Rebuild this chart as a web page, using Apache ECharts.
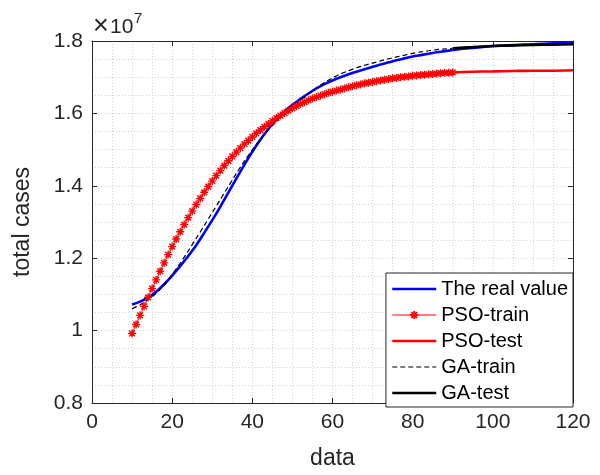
<!DOCTYPE html>
<html>
<head>
<meta charset="utf-8">
<script src="https://cdn.jsdelivr.net/npm/echarts@6/dist/echarts.min.js"></script>
<style>
  html, body { margin: 0; padding: 0; background: #fff; }
  #chart { width: 600px; height: 475px; }
</style>
</head>
<body>
<div id="chart"></div>
<script>
// values are in units of 1e7 (axis shows "x10^7")
var seriesNames = ['The real value', 'PSO-train', 'PSO-test', 'GA-train', 'GA-test'];

// real value, from day 10 to 120, every 2 days
var realStart = 10, realStep = 2;
var realValue = [1.072, 1.080, 1.091, 1.107, 1.128, 1.152, 1.178, 1.206, 1.236, 1.270,
    1.305, 1.342, 1.381, 1.420, 1.458, 1.494, 1.527, 1.557, 1.583, 1.605,
    1.624, 1.640, 1.655, 1.669, 1.681, 1.691, 1.700, 1.708, 1.715, 1.722,
    1.729, 1.735, 1.741, 1.747, 1.752, 1.757, 1.761, 1.765, 1.769, 1.772,
    1.775, 1.778, 1.780, 1.782, 1.784, 1.786, 1.787, 1.788, 1.789, 1.790,
    1.791, 1.792, 1.793, 1.794, 1.795, 1.796];

// PSO train, every day from 10 to 90
var psoTrainStart = 10;
var psoTrain = [0.992, 1.017, 1.042, 1.067, 1.092, 1.116, 1.140, 1.164, 1.187, 1.210,
    1.232, 1.253, 1.273, 1.293, 1.312, 1.330, 1.348, 1.365, 1.382, 1.398,
    1.413, 1.428, 1.442, 1.456, 1.469, 1.481, 1.493, 1.504, 1.515, 1.525,
    1.535, 1.545, 1.554, 1.563, 1.571, 1.579, 1.587, 1.594, 1.601, 1.608,
    1.614, 1.620, 1.626, 1.631, 1.636, 1.641, 1.645, 1.649, 1.653, 1.657,
    1.660, 1.663, 1.666, 1.669, 1.672, 1.675, 1.678, 1.680, 1.683, 1.685,
    1.687, 1.689, 1.691, 1.693, 1.695, 1.697, 1.698, 1.700, 1.701, 1.702,
    1.704, 1.705, 1.706, 1.707, 1.708, 1.709, 1.710, 1.711, 1.712, 1.712,
    1.713];

var testDays = [90, 95, 100, 105, 110, 115, 120];
var psoTest = [1.713, 1.715, 1.716, 1.717, 1.718, 1.718, 1.719];

// GA train, every 2 days from 10 to 90
var gaTrainStart = 10, gaTrainStep = 2;
var gaTrain = [1.060, 1.071, 1.085, 1.103, 1.126, 1.155, 1.186, 1.220, 1.255, 1.290,
    1.326, 1.362, 1.398, 1.434, 1.468, 1.499, 1.529, 1.555, 1.578, 1.598,
    1.617, 1.636, 1.654, 1.670, 1.685, 1.698, 1.709, 1.718, 1.726, 1.733,
    1.739, 1.745, 1.751, 1.756, 1.761, 1.766, 1.770, 1.773, 1.776, 1.778,
    1.780];
var gaTest = [1.780, 1.783, 1.786, 1.788, 1.789, 1.790, 1.791];

var xTicks = { min: 0, max: 120, interval: 20 };
var yTicks = { min: 0.8, max: 1.8, interval: 0.2 };

function pairs(start, step, vals) {
    return vals.map(function (v, i) { return [start + i * step, v]; });
}
function zipXY(xs, vals) {
    return vals.map(function (v, i) { return [xs[i], v]; });
}

var font = "'Liberation Sans', Arial, sans-serif";
var axisColor = '#262626';
var gridLine = { show: true, lineStyle: { color: '#d2d2d2', type: [1, 2], width: 1 } };
var asterisk = 'path://M0,-1L0,1M-1,0L1,0M-0.72,-0.72L0.72,0.72M-0.72,0.72L0.72,-0.72';

function xAxisDef(pos, main) {
    return {
        type: 'value', position: pos,
        min: xTicks.min, max: xTicks.max, interval: xTicks.interval,
        name: main ? 'data' : '', nameLocation: 'middle', nameGap: 44,
        nameTextStyle: { fontSize: 23, color: axisColor, fontFamily: font },
        axisLine: { show: true, onZero: false, lineStyle: { color: axisColor, width: 1 } },
        axisTick: { show: true, inside: true, length: 5, lineStyle: { color: axisColor } },
        axisLabel: { show: main, fontSize: 21, color: axisColor, fontFamily: font, margin: 9 },
        splitLine: main ? gridLine : { show: false },
        minorTick: { show: false, splitNumber: 4 },
        minorSplitLine: main ? gridLine : { show: false }
    };
}
function yAxisDef(pos, main) {
    return {
        type: 'value', position: pos,
        min: yTicks.min, max: yTicks.max, interval: yTicks.interval,
        name: main ? 'total cases' : '', nameLocation: 'middle', nameGap: 58,
        nameTextStyle: { fontSize: 23, color: axisColor, fontFamily: font },
        axisLine: { show: true, onZero: false, lineStyle: { color: axisColor, width: 1 } },
        axisTick: { show: true, inside: true, length: 5, lineStyle: { color: axisColor } },
        axisLabel: { show: main, fontSize: 21, color: axisColor, fontFamily: font, margin: 9 },
        splitLine: main ? gridLine : { show: false },
        minorTick: { show: false, splitNumber: 4 },
        minorSplitLine: main ? gridLine : { show: false }
    };
}

var chart = echarts.init(document.getElementById('chart'));
var option = {
    animation: false,
    backgroundColor: '#fff',
    textStyle: { fontFamily: font },
    grid: { left: 92, right: 27, top: 41, bottom: 68 },
    xAxis: [xAxisDef('bottom', true), xAxisDef('top', false)],
    yAxis: [yAxisDef('left', true), yAxisDef('right', false)],
    legend: {
        orient: 'vertical',
        right: 27, bottom: 68,
        padding: [6, 5, 4, 5],
        itemGap: 6,
        itemWidth: 44,
        itemHeight: 10,
        backgroundColor: '#fff',
        borderColor: axisColor,
        borderWidth: 1,
        borderRadius: 0,
        textStyle: { fontSize: 20, color: '#000', fontFamily: font },
        lineStyle: { width: 'inherit' },
        data: [
            { name: seriesNames[0], itemStyle: { opacity: 0 } },
            { name: seriesNames[1] },
            { name: seriesNames[2], itemStyle: { opacity: 0 } },
            { name: seriesNames[3], itemStyle: { opacity: 0 } },
            { name: seriesNames[4], itemStyle: { opacity: 0 } }
        ]
    },
    graphic: [
        { type: 'text', left: 93, top: 13, style: { text: '×', fontSize: 27, fill: axisColor, fontFamily: font } },
        { type: 'text', left: 110, top: 17, style: { text: '10', fontSize: 21, fill: axisColor, fontFamily: font } },
        { type: 'text', left: 134, top: 11, style: { text: '7', fontSize: 15, fill: axisColor, fontFamily: font } }
    ],
    series: [
        {
            name: seriesNames[0], type: 'line', showSymbol: false, symbol: 'circle',
            smooth: 0.3, data: pairs(realStart, realStep, realValue),
            lineStyle: { color: '#0000ff', width: 2.6 }, itemStyle: { color: '#0000ff' }
        },
        {
            name: seriesNames[1], type: 'line', symbol: asterisk, symbolSize: 8,
            data: pairs(psoTrainStart, 1, psoTrain),
            lineStyle: { color: '#ff0000', width: 1 },
            itemStyle: { color: '#ff0000', borderColor: '#ff0000', borderWidth: 1.4 }
        },
        {
            name: seriesNames[2], type: 'line', showSymbol: false, symbol: 'circle',
            smooth: 0.3, data: zipXY(testDays, psoTest),
            lineStyle: { color: '#ff0000', width: 2.6 }, itemStyle: { color: '#ff0000' }
        },
        {
            name: seriesNames[3], type: 'line', showSymbol: false, symbol: 'circle',
            smooth: 0.3, data: pairs(gaTrainStart, gaTrainStep, gaTrain),
            lineStyle: { color: '#000', width: 1.2, type: [5, 3] }, itemStyle: { color: '#000' }
        },
        {
            name: seriesNames[4], type: 'line', showSymbol: false, symbol: 'circle',
            smooth: 0.3, data: zipXY(testDays, gaTest),
            lineStyle: { color: '#000', width: 2.6 }, itemStyle: { color: '#000' }
        }
    ]
};
chart.setOption(option);
</script>
</body>
</html>
